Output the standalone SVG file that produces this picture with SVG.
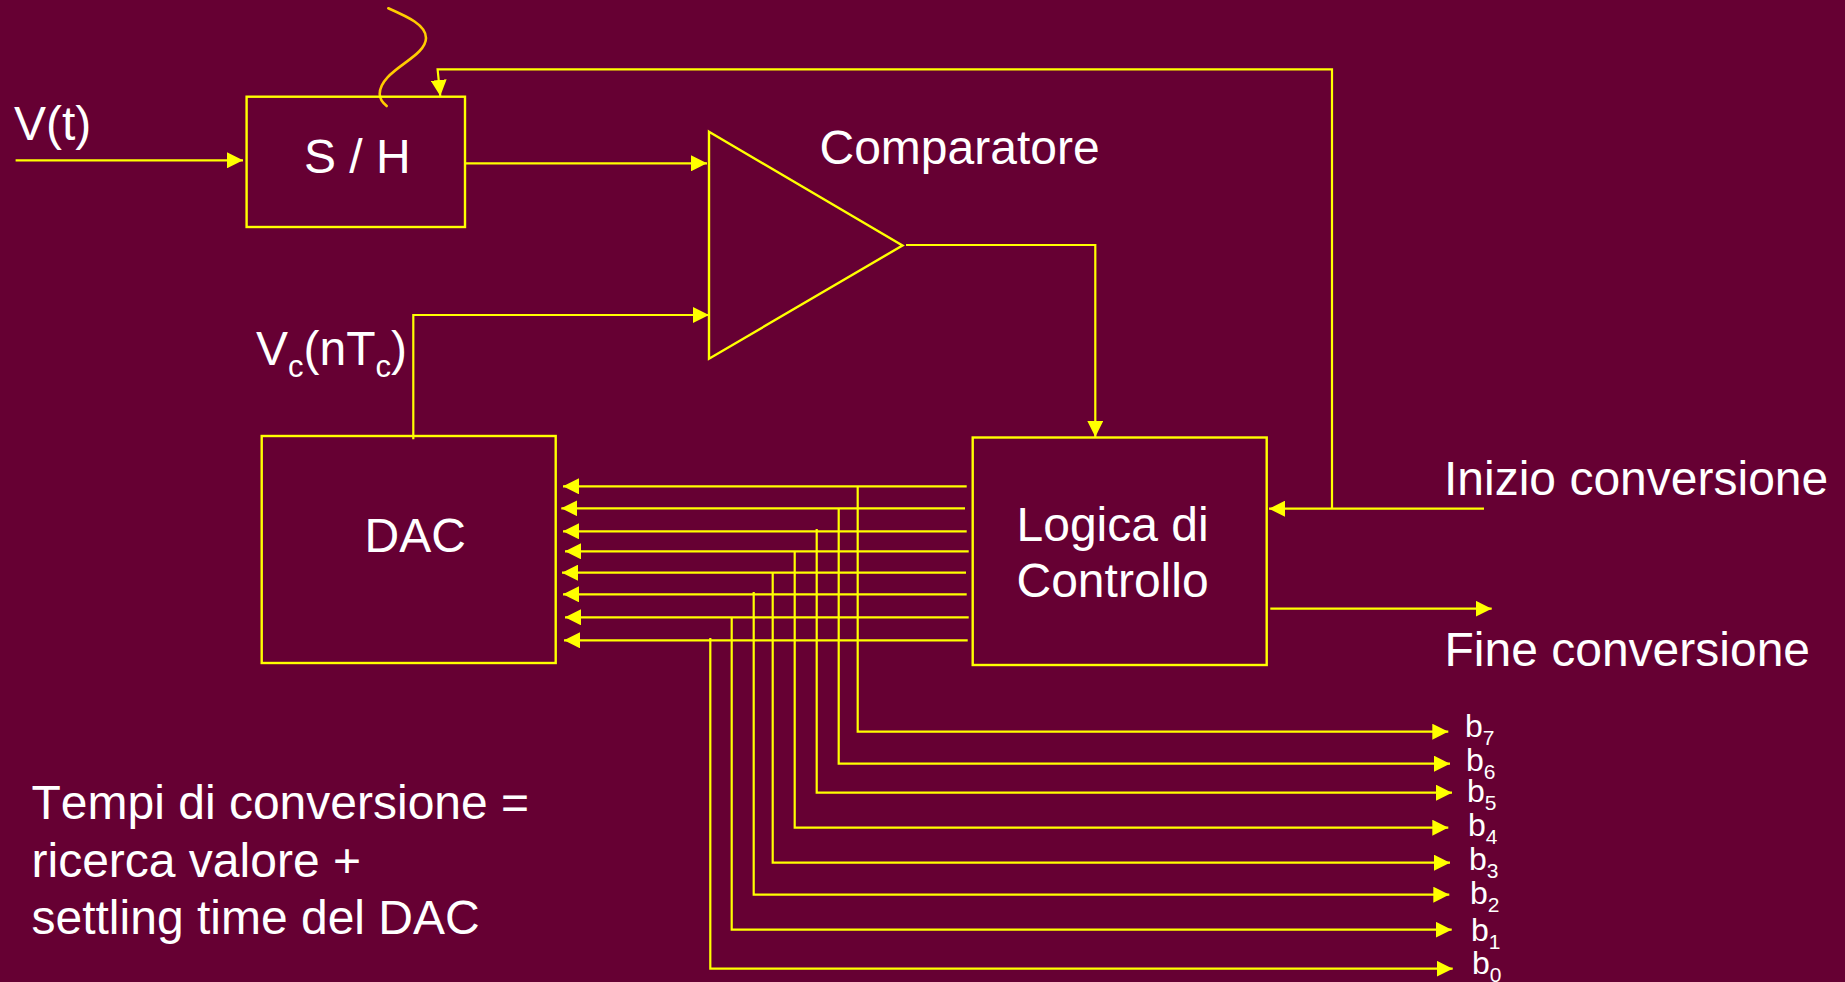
<svg xmlns="http://www.w3.org/2000/svg" width="1845" height="982" viewBox="0 0 1845 982">
<style>
.bg{fill:#660033}
.box{fill:none;stroke:#ffff00;stroke-width:2.4}
.wire{fill:none;stroke:#ffff00;stroke-width:2.2}
.arr{marker-end:url(#ah)}
.curve{fill:none;stroke:#ffcc00;stroke-width:2.6;stroke-linecap:round}
text{font-family:"Liberation Sans",Arial,sans-serif;fill:#ffffff;font-size:48px;font-kerning:none}
.b{font-size:32px}
.sub{font-size:31px}
.bsub{font-size:21px}
</style>
<defs>
<marker id="ah" markerUnits="userSpaceOnUse" markerWidth="16" markerHeight="16" refX="16" refY="8" orient="auto" viewBox="0 0 16 16"><path d="M0 0L16 8L0 16Z" fill="#ffff00"/></marker>
</defs>
<rect class="bg" width="1845" height="982"/>
<g id="connectors">
<path class="wire arr" d="M15.6 160.3H243"/>
<path class="wire arr" d="M465 163.3H707"/>
<path class="wire arr" d="M413.3 439.3V315H709"/>
<path class="wire arr" d="M906 245H1095.3V437"/>
<path class="wire arr" d="M1332 508.7V69.3H437.6L440.3 96"/>
<path class="wire arr" d="M1484 508.7H1269"/>
<path class="wire arr" d="M1270.3 608.7H1491.7"/>
<path class="curve" d="M388.3 8.3C408 17 426 25 426 38C426 58 379.7 70 379.7 94C379.7 99 383 103 386.7 106"/>
<path class="wire arr" d="M966.7 486.3H563"/>
<path class="wire arr" d="M965 508.3H561.3"/>
<path class="wire arr" d="M966.7 531.3H563"/>
<path class="wire arr" d="M968.7 551.3H565"/>
<path class="wire arr" d="M966 572.7H562"/>
<path class="wire arr" d="M966.7 594.3H563"/>
<path class="wire arr" d="M968.7 617.3H565"/>
<path class="wire arr" d="M967.7 640.3H564"/>
<path class="wire arr" d="M857.7 486V731.7H1448.3"/>
<path class="wire arr" d="M838.7 508V763.7H1450"/>
<path class="wire arr" d="M816.7 529V792.7H1452"/>
<path class="wire arr" d="M794.7 551V827.7H1448.3"/>
<path class="wire arr" d="M772.7 572V862.7H1450"/>
<path class="wire arr" d="M753.7 592V894.7H1449.3"/>
<path class="wire arr" d="M731.7 617V929.7H1451.7"/>
<path class="wire arr" d="M710.3 638V968.7H1452.7"/>
</g>
<g id="sample-hold"><rect class="box" x="246.6" y="96.7" width="218.4" height="130.3"/><text x="304" y="172.5">S / H</text></g>
<g id="comparatore"><path class="box" d="M709 131.7L902.5 245.5L709 358.7Z"/><text x="819.5" y="164">Comparatore</text></g>
<g id="dac"><rect class="box" x="261.7" y="436" width="294" height="227"/><text x="364.5" y="552">DAC</text></g>
<g id="logica"><rect class="box" x="972.7" y="437.5" width="294" height="227.5"/><text x="1016.5" y="541">Logica di</text><text x="1016.5" y="597">Controllo</text></g>
<g id="labels">
<text x="14" y="140">V(t)</text>
<text x="256" y="365">V<tspan class="sub" dy="12">c</tspan><tspan dy="-12">(nT</tspan><tspan class="sub" dy="12">c</tspan><tspan dy="-12">)</tspan></text>
<text x="1444" y="495">Inizio conversione</text>
<text x="1444.5" y="665.5">Fine conversione</text>
<text x="31.5" y="819">Tempi di conversione =</text>
<text x="31.5" y="877">ricerca valore +</text>
<text x="31.5" y="933.5">settling time del DAC</text>
<text class="b" x="1465" y="736.7">b<tspan class="bsub" dy="8">7</tspan></text>
<text class="b" x="1466" y="770.7">b<tspan class="bsub" dy="8">6</tspan></text>
<text class="b" x="1467" y="801.7">b<tspan class="bsub" dy="8">5</tspan></text>
<text class="b" x="1468" y="835.7">b<tspan class="bsub" dy="8">4</tspan></text>
<text class="b" x="1469" y="870">b<tspan class="bsub" dy="8">3</tspan></text>
<text class="b" x="1470" y="904">b<tspan class="bsub" dy="8">2</tspan></text>
<text class="b" x="1471" y="940.7">b<tspan class="bsub" dy="8">1</tspan></text>
<text class="b" x="1472" y="974">b<tspan class="bsub" dy="8">0</tspan></text>
</g>
</svg>
